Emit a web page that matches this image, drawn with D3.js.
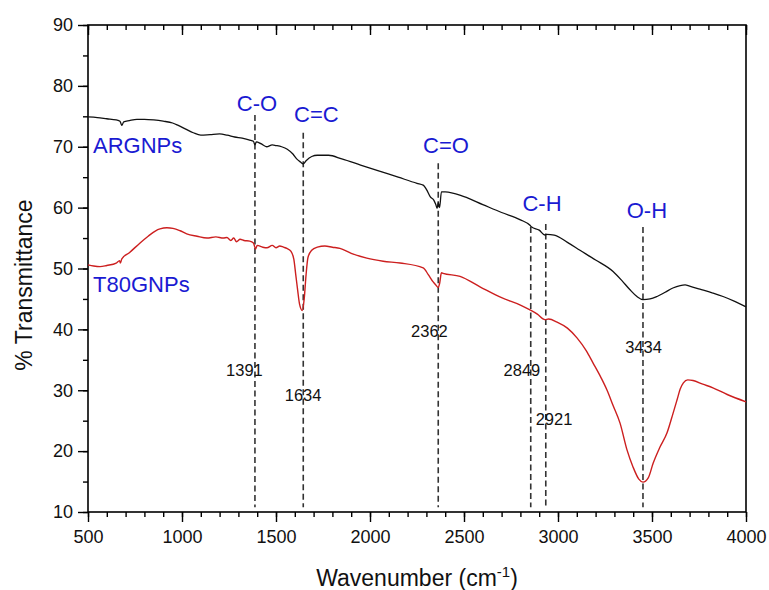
<!DOCTYPE html>
<html>
<head>
<meta charset="utf-8">
<script src="https://cdn.jsdelivr.net/npm/d3@7"></script>
<style>
html,body{margin:0;padding:0;background:#fff;}
svg{display:block;font-family:"Liberation Sans",Arial,sans-serif;}
</style>
</head>
<body>
<svg id="chart" width="769" height="590"></svg>
<script>
// ---------- data ----------
const argWave = [500,550,600,650,670,680,690,720,760,800,850,900,950,980,1020,1060,1100,1150,1200,1240,1280,1320,1360,1380,1388,1395,1420,1450,1480,1500,1530,1560,1590,1610,1630,1645,1660,1690,1720,1780,1850,1950,2050,2150,2250,2283,2300,2320,2340,2350,2357,2363,2370,2380,2389,2400,2500,2600,2700,2800,2851,2860,2900,2930,2940,2980,3050,3117,3200,3293,3340,3383,3420,3452,3490,3527,3570,3611,3650,3676,3700,3755,3820,3878,3940,4000];
const argValue = [74.9,74.8,74.6,74.4,74.2,73.5,74.1,74.3,74.5,74.5,74.4,74.2,73.9,73.5,72.9,72.3,71.9,72.0,72.1,71.9,71.6,71.4,71.1,70.9,70.3,70.8,70.5,70.0,70.3,70.2,70.0,69.6,68.8,68.0,67.5,67.2,67.7,68.4,68.6,68.6,68.0,67.0,66.0,65.0,64.0,63.7,63.0,61.8,61.2,60.5,59.9,60.8,60.0,62.6,62.6,62.6,61.8,60.5,59.2,58.0,57.1,56.8,56.3,55.5,55.6,55.5,54.3,53.0,51.4,49.5,48.0,46.5,45.4,44.9,45.0,45.4,46.1,46.8,47.2,47.3,47.1,46.6,46.0,45.4,44.6,43.7];

const t80Wave = [500,530,564,600,650,668,672,680,720,777,820,860,883,920,952,990,1025,1080,1133,1180,1220,1239,1260,1275,1290,1309,1330,1360,1380,1391,1400,1430,1452,1480,1500,1520,1540,1558,1580,1595,1605,1615,1625,1640,1650,1660,1670,1690,1720,1760,1800,1840,1900,1983,2070,2160,2283,2310,2336,2350,2362,2370,2380,2389,2479,2585,2700,2800,2851,2890,2930,2950,2995,3050,3101,3150,3186,3230,3261,3293,3330,3367,3399,3430,3452,3480,3506,3540,3580,3610,3633,3650,3667,3690,3718,3770,3824,3900,4000];
const t80Value = [50.6,50.4,50.3,50.5,50.9,51.3,50.9,51.6,52.6,54.2,55.3,56.2,56.5,56.7,56.6,56.2,55.7,55.3,55.0,55.2,55.0,55.1,54.6,55.0,54.4,54.8,54.6,54.5,54.2,53.2,53.8,53.5,53.4,53.8,53.4,53.7,53.5,53.3,52.8,51.5,49.0,46.5,44.2,43.1,45.0,49.0,51.8,53.0,53.5,53.7,53.5,53.3,52.5,51.7,51.2,50.9,50.1,49.0,47.8,47.3,46.9,47.5,49.3,49.2,48.7,47.0,45.2,44.0,43.2,42.5,41.6,41.7,41.2,40.2,38.6,36.5,34.5,32.0,30.0,27.5,24.6,20.2,17.4,15.4,14.9,15.6,18.0,20.5,23.0,26.0,28.4,30.2,31.2,31.7,31.6,31.0,30.4,29.3,28.1];

// dashed marker lines (wavenumber, top value)
const peakWave = [1388,1645,2363,2855,2935,3452];
const peakTop = [75.2,72.3,67.3,56.8,57.3,56.8];
// peak number labels
const peakLabels = ["1391","1634","2362","2849","2921","3434"];
const peakLabelWave = [1332,1644,2316,2808,2979,3455];
const peakLabelValue = [32.3,28.3,38.8,32.3,24.3,36.1];
// bond group labels
const groupLabels = ["C-O","C=C","C=O","C-H","O-H"];
const groupWave = [1399,1715,2404,2915,3473];
const groupValue = [75.9,74.0,69.0,59.45,58.3];
// series names
const seriesNames = ["ARGNPs","T80GNPs"];
const seriesLabelWave = [527,527];
const seriesLabelValue = [69.0,46.1];

const xTicks = [500,1000,1500,2000,2500,3000,3500,4000];
const yTicks = [10,20,30,40,50,60,70,80,90];

// ---------- layout ----------
const svg = d3.select("#chart");
const L = 88, R = 746, T = 25, B = 512;
const x = d3.scaleLinear().domain([500,4000]).range([L,R]);
const y = d3.scaleLinear().domain([10,90]).range([B,T]);
const blue = "#1a1ad2";
const red = "#cc1f1f";

const xMinor = d3.range(500,4001,100);
const yMinor = d3.range(10,91,5);

// frame
svg.append("rect").attr("x",L).attr("y",T).attr("width",R-L).attr("height",B-T)
  .attr("fill","none").attr("stroke","#000").attr("stroke-width",1.6);

function styleAxis(g){
  g.select(".domain").remove();
  g.selectAll("line").attr("stroke","#000").attr("stroke-width",1.4);
}
// bottom axis minor + major
svg.append("g").attr("transform",`translate(0,${B})`)
  .call(d3.axisBottom(x).tickValues(xMinor).tickSize(5).tickFormat(""))
  .call(styleAxis);
const gx = svg.append("g").attr("transform",`translate(0,${B})`)
  .call(d3.axisBottom(x).tickValues(xTicks).tickSize(10).tickPadding(8).tickFormat(d3.format("d")))
  .call(styleAxis);
gx.selectAll("text").attr("font-size",18).attr("fill","#111").attr("font-family","Liberation Sans, Arial, sans-serif");
// top axis (inward)
svg.append("g").attr("transform",`translate(0,${T})`)
  .call(d3.axisBottom(x).tickValues(xMinor).tickSize(5).tickFormat(""))
  .call(styleAxis);
svg.append("g").attr("transform",`translate(0,${T})`)
  .call(d3.axisBottom(x).tickValues(xTicks).tickSize(10).tickFormat(""))
  .call(styleAxis);
// left axis
svg.append("g").attr("transform",`translate(${L},0)`)
  .call(d3.axisLeft(y).tickValues(yMinor).tickSize(5).tickFormat(""))
  .call(styleAxis);
const gy = svg.append("g").attr("transform",`translate(${L},0)`)
  .call(d3.axisLeft(y).tickValues(yTicks).tickSize(10).tickPadding(5).tickFormat(d3.format("d")))
  .call(styleAxis);
gy.selectAll("text").attr("font-size",18).attr("fill","#111").attr("font-family","Liberation Sans, Arial, sans-serif");

// axis titles
const xt = svg.append("text").attr("x",(L+R)/2).attr("y",586).attr("text-anchor","middle")
  .attr("font-size",23).attr("fill","#111");
xt.append("tspan").text("Wavenumber (cm");
xt.append("tspan").attr("font-size",15).attr("dy",-9).text("-1");
xt.append("tspan").attr("dy",9).text(")");
svg.append("text").attr("transform","translate(32,285) rotate(-90)").attr("text-anchor","middle")
  .attr("font-size",23).attr("fill","#111").text("% Transmittance");

// dashed lines
svg.append("g").selectAll("line").data(peakWave).join("line")
  .attr("x1",d=>x(d)).attr("x2",d=>x(d))
  .attr("y1",(d,i)=>y(peakTop[i])).attr("y2",y(10.8))
  .attr("stroke","#333").attr("stroke-width",1.6).attr("stroke-dasharray","6,3.5");

// curves
const line = d3.line().x(d=>x(d[0])).y(d=>y(d[1])).curve(d3.curveMonotoneX);
svg.append("path").datum(argWave.map((w,i)=>[w,argValue[i]]))
  .attr("d",line).attr("fill","none").attr("stroke","#111").attr("stroke-width",1.3);
svg.append("path").datum(t80Wave.map((w,i)=>[w,t80Value[i]]))
  .attr("d",line).attr("fill","none").attr("stroke",red).attr("stroke-width",1.4);

// peak number labels
svg.append("g").selectAll("text").data(peakLabels).join("text")
  .attr("x",(d,i)=>x(peakLabelWave[i])).attr("y",(d,i)=>y(peakLabelValue[i]))
  .attr("text-anchor","middle").attr("font-size",16.5).attr("fill","#111").text(d=>d);
// group labels
svg.append("g").selectAll("text").data(groupLabels).join("text")
  .attr("x",(d,i)=>x(groupWave[i])).attr("y",(d,i)=>y(groupValue[i]))
  .attr("text-anchor","middle").attr("font-size",22).attr("fill",blue).text(d=>d);
// series labels
svg.append("g").selectAll("text").data(seriesNames).join("text")
  .attr("x",(d,i)=>x(seriesLabelWave[i])).attr("y",(d,i)=>y(seriesLabelValue[i]))
  .attr("font-size",22).attr("fill",blue).text(d=>d);
</script>
</body>
</html>
